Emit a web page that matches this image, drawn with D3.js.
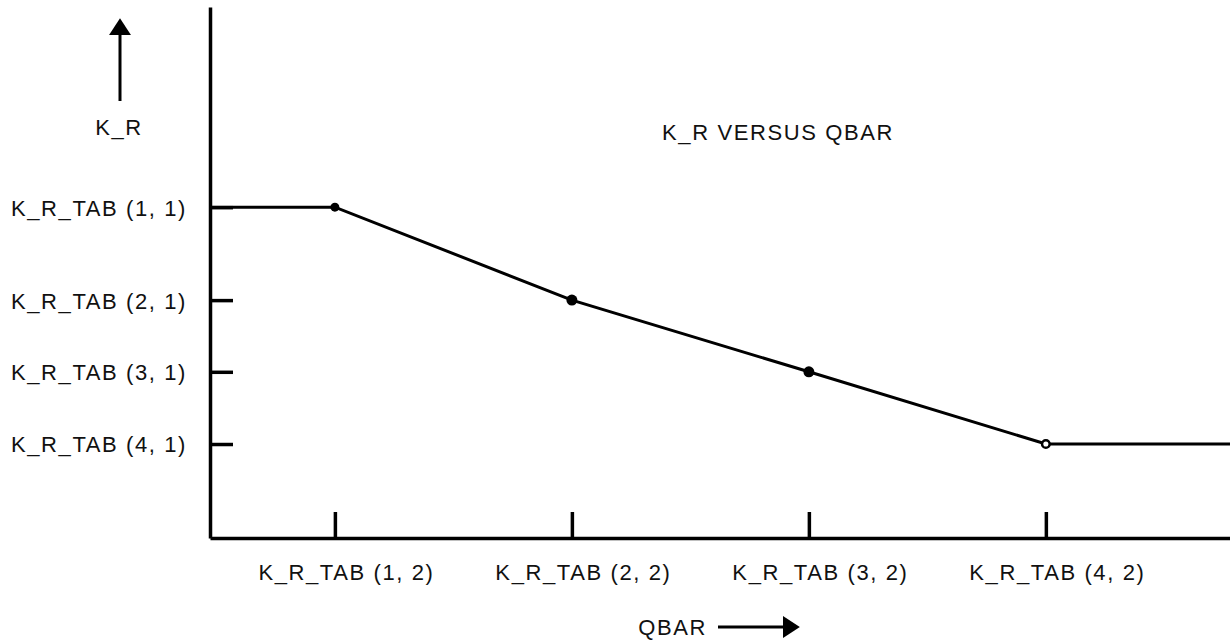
<!DOCTYPE html>
<html>
<head>
<meta charset="utf-8">
<script src="https://cdn.jsdelivr.net/npm/d3@7"></script>
<style>
  body { margin: 0; background: #fff; }
  text { font-family: "Liberation Sans", Arial, sans-serif; fill: #111; }
  .lbl { font-size: 22px; letter-spacing: 1.6px; }
  .title { font-size: 22px; letter-spacing: 1.6px; }
  .axis path, .axis line { stroke: #000; stroke-width: 3.5px; }
  .curve { fill: none; stroke: #000; stroke-width: 3px; }
</style>
</head>
<body>
<script>
// tabulated points
var qbar = [1, 2, 3, 4];                 // K_R_TAB (i, 2)
var kr   = [6.23, 4.48, 3.13, 1.77];     // K_R_TAB (i, 1)
var xLabels = ["K_R_TAB (1, 2)", "K_R_TAB (2, 2)", "K_R_TAB (3, 2)", "K_R_TAB (4, 2)"];
var yLabels = ["K_R_TAB (1, 1)", "K_R_TAB (2, 1)", "K_R_TAB (3, 1)", "K_R_TAB (4, 1)"];
var xDomain = [0.473, 4.777];
var yDomain = [0, 10];

var W = 1230, H = 644;
var svg = d3.select("body").append("svg").attr("width", W).attr("height", H);

var x = d3.scaleLinear().domain(xDomain).range([210, 1230]);
var y = d3.scaleLinear().domain(yDomain).range([538, 7]);

// y axis
var gy = svg.append("g").attr("class", "axis")
  .attr("transform", "translate(" + x(xDomain[0]) + ",0)")
  .call(d3.axisLeft(y).tickValues(kr).tickSize(-23).tickSizeOuter(0)
    .tickFormat(function(d, i) { return yLabels[i]; }));
gy.selectAll("text").attr("class", "lbl").attr("x", -23).attr("dy", "0.36em");

// x axis
var gx = svg.append("g").attr("class", "axis")
  .attr("transform", "translate(0," + y(yDomain[0]) + ")")
  .call(d3.axisBottom(x).tickValues(qbar).tickSize(-26).tickSizeOuter(0)
    .tickFormat(function(d, i) { return xLabels[i]; }));
gx.selectAll("text").attr("class", "lbl").attr("y", 42).attr("dy", 0).attr("dx", 11);
svg.selectAll(".axis").attr("font-size", null).attr("font-family", null);

// the curve: flat from the axis, the table, flat to the edge
var pts = qbar.map(function(q, i) { return [q, kr[i]]; });
var full = [[xDomain[0], kr[0]]].concat(pts, [[xDomain[1], kr[kr.length - 1]]]);
var line = d3.line().x(function(d) { return x(d[0]); }).y(function(d) { return y(d[1]); });
svg.append("path").datum(full).attr("class", "curve").attr("d", line);

var rads = [4.5, 5.5, 5.5, 3.8];
svg.selectAll(".pt").data(pts).enter().append("circle")
  .attr("cx", function(d) { return x(d[0]); })
  .attr("cy", function(d) { return y(d[1]); })
  .attr("r", function(d, i) { return rads[i]; })
  .attr("fill", function(d, i) { return i === 3 ? "#fff" : "#000"; })
  .attr("stroke", "#000").attr("stroke-width", function(d, i) { return i === 3 ? 2.5 : 0; });

// arrows
var defs = svg.append("defs");
defs.append("marker").attr("id", "head").attr("viewBox", "0 0 10 13")
  .attr("refX", 0).attr("refY", 6.5).attr("markerWidth", 5.8).attr("markerHeight", 7.3)
  .attr("markerUnits", "strokeWidth").attr("orient", "auto")
  .append("path").attr("d", "M0,0L10,6.5L0,13Z").attr("fill", "#000");

svg.append("line").attr("x1", 120).attr("y1", 101).attr("x2", 120).attr("y2", 35)
  .attr("stroke", "#000").attr("stroke-width", 3).attr("marker-end", "url(#head)");
svg.append("text").attr("class", "lbl").attr("x", 119).attr("y", 135)
  .attr("text-anchor", "middle").text("K_R");

svg.append("line").attr("x1", 718).attr("y1", 627).attr("x2", 783).attr("y2", 627)
  .attr("stroke", "#000").attr("stroke-width", 3).attr("marker-end", "url(#head)");
svg.append("text").attr("class", "lbl").attr("x", 707).attr("y", 635)
  .attr("text-anchor", "end").text("QBAR");

svg.append("text").attr("class", "title").attr("x", 778).attr("y", 140)
  .attr("text-anchor", "middle").text("K_R VERSUS QBAR");
</script>
</body>
</html>
